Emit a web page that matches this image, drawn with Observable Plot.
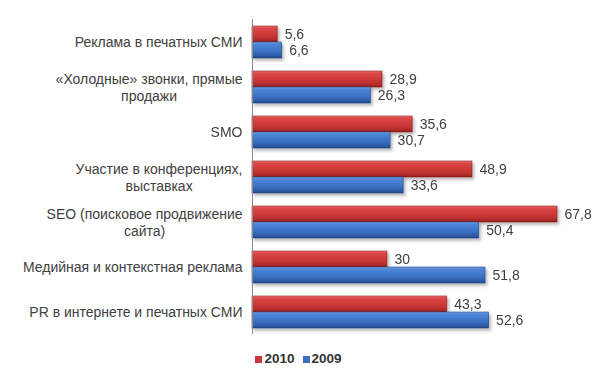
<!DOCTYPE html>
<html><head><meta charset="utf-8">
<script src="https://cdn.jsdelivr.net/npm/d3@7"></script>
<script src="https://cdn.jsdelivr.net/npm/@observablehq/plot@0.6"></script>
<style>
body{margin:0;background:#fff;font-family:"Liberation Sans",Arial,sans-serif;}
#legend{width:597px;text-align:center;font:bold 13.5px "Liberation Sans",Arial,sans-serif;color:#333;padding-top:6px;}
#legend span.sw{display:inline-block;width:7px;height:7px;margin-right:2px;vertical-align:0px;}
#legend span.it{margin:0 4px;}
</style></head>
<body>
<div id="chart"></div>
<div id="legend"></div>
<script>
const categories = [
  "Реклама в печатных СМИ",
  "«Холодные» звонки, прямые продажи",
  "SMO",
  "Участие в конференциях, выставках",
  "SEO (поисковое продвижение сайта)",
  "Медийная и контекстная реклама",
  "PR в интернете и печатных СМИ"
];
const categoryLines = [
  "Реклама в печатных СМИ",
  "«Холодные» звонки, прямые\nпродажи",
  "SMO",
  "Участие в конференциях,\nвыставках",
  "SEO (поисковое продвижение\nсайта)",
  "Медийная и контекстная реклама",
  "PR в интернете и печатных СМИ"
];
const seriesNames = ["2010", "2009"];
const values2010 = [5.6, 28.9, 35.6, 48.9, 67.8, 30, 43.3];
const values2009 = [6.6, 26.3, 30.7, 33.6, 50.4, 51.8, 52.6];
const seriesColors = ["#c8383a", "#3b6fc3"];

const rows = [];
categories.forEach((c, i) => {
  rows.push({category: c, series: "2010", value: values2010[i]});
  rows.push({category: c, series: "2009", value: values2009[i]});
});
const labels = categories.map((c, i) => ({category: c, label: categoryLines[i]}));
const fmt = v => String(v).replace(".", ",");
const maxV = d3.max(rows, d => d.value);
const FONT = '"Liberation Sans", Arial, sans-serif';
const LABEL_SIZE = 14;

const chart = Plot.plot({
  width: 597,
  height: 345,
  marginLeft: 252,
  marginRight: 40,
  marginTop: 17,
  marginBottom: 9,
  style: {fontFamily: FONT, fontSize: "14px", color: "#404040", background: "#fff"},
  x: {domain: [0, maxV], axis: null},
  y: {domain: seriesNames, axis: null, paddingInner: 0, paddingOuter: 0.38},
  fy: {domain: categories, axis: null, padding: 0},
  marks: [
    Plot.barX(rows.filter(d => d.series === "2010"), {x: "value", y: "series", fy: "category", fill: "url(#gRed)", stroke: "#8a1d1d", strokeWidth: 0.6, ariaDescription: "bars"}),
    Plot.barX(rows.filter(d => d.series === "2009"), {x: "value", y: "series", fy: "category", fill: "url(#gBlue)", stroke: "#1f4583", strokeWidth: 0.6, ariaDescription: "bars"}),
    Plot.ruleX([0], {stroke: "#8a8a8a", strokeWidth: 1}),
    Plot.text(rows, {x: "value", y: "series", fy: "category", text: d => fmt(d.value), dx: 7, textAnchor: "start", fill: "#404040", fontSize: 14}),
    Plot.text(labels, {fy: "category", text: "label", frameAnchor: "left", dx: -10, textAnchor: "middle", lineAnchor: "middle", lineHeight: 1.2, fill: "#404040", fontSize: LABEL_SIZE, ariaDescription: "category-labels"})
  ]
});
document.getElementById("chart").appendChild(chart);

// gradients and shadow
const svg = d3.select(chart);
const defs = svg.insert("defs", ":first-child");
function grad(id, stops) {
  const g = defs.append("linearGradient").attr("id", id).attr("x1", 0).attr("y1", 0).attr("x2", 0).attr("y2", 1);
  stops.forEach(([o, c]) => g.append("stop").attr("offset", o).attr("stop-color", c));
}
grad("gRed", [[0, "#ee7a7a"], [0.12, "#dc4848"], [0.55, "#cc3838"], [0.85, "#b22c2c"], [1, "#8a1d1d"]]);
grad("gBlue", [[0, "#7aa6e6"], [0.12, "#4f86d8"], [0.55, "#3d72c6"], [0.85, "#2f5ca8"], [1, "#1f4583"]]);
const f = defs.append("filter").attr("id", "shadow").attr("x", "-10%").attr("y", "-30%").attr("width", "130%").attr("height", "180%");
f.append("feDropShadow").attr("dx", 2).attr("dy", 2.5).attr("stdDeviation", 1.6).attr("flood-color", "#000").attr("flood-opacity", 0.28);
svg.selectAll('g[aria-description="bars"]').attr("filter", "url(#shadow)");

// right-align category label blocks (lines centred within the block)
const ctx = document.createElement("canvas").getContext("2d");
ctx.font = `${LABEL_SIZE}px ${FONT}`;
svg.selectAll('g[aria-description="category-labels"] text').each(function() {
  const spans = this.querySelectorAll("tspan");
  const lines = spans.length ? Array.from(spans, s => s.textContent) : [this.textContent];
  const w = d3.max(lines, l => ctx.measureText(l).width);
  const t = this.getAttribute("transform") || "";
  this.setAttribute("transform", t + ` translate(${-w / 2},0)`);
});

// legend
const leg = d3.select("#legend");
seriesNames.forEach((s, i) => {
  const it = leg.append("span").attr("class", "it");
  it.append("span").attr("class", "sw").style("background", seriesColors[i]);
  it.append("span").text(s);
});
</script>
</body></html>
